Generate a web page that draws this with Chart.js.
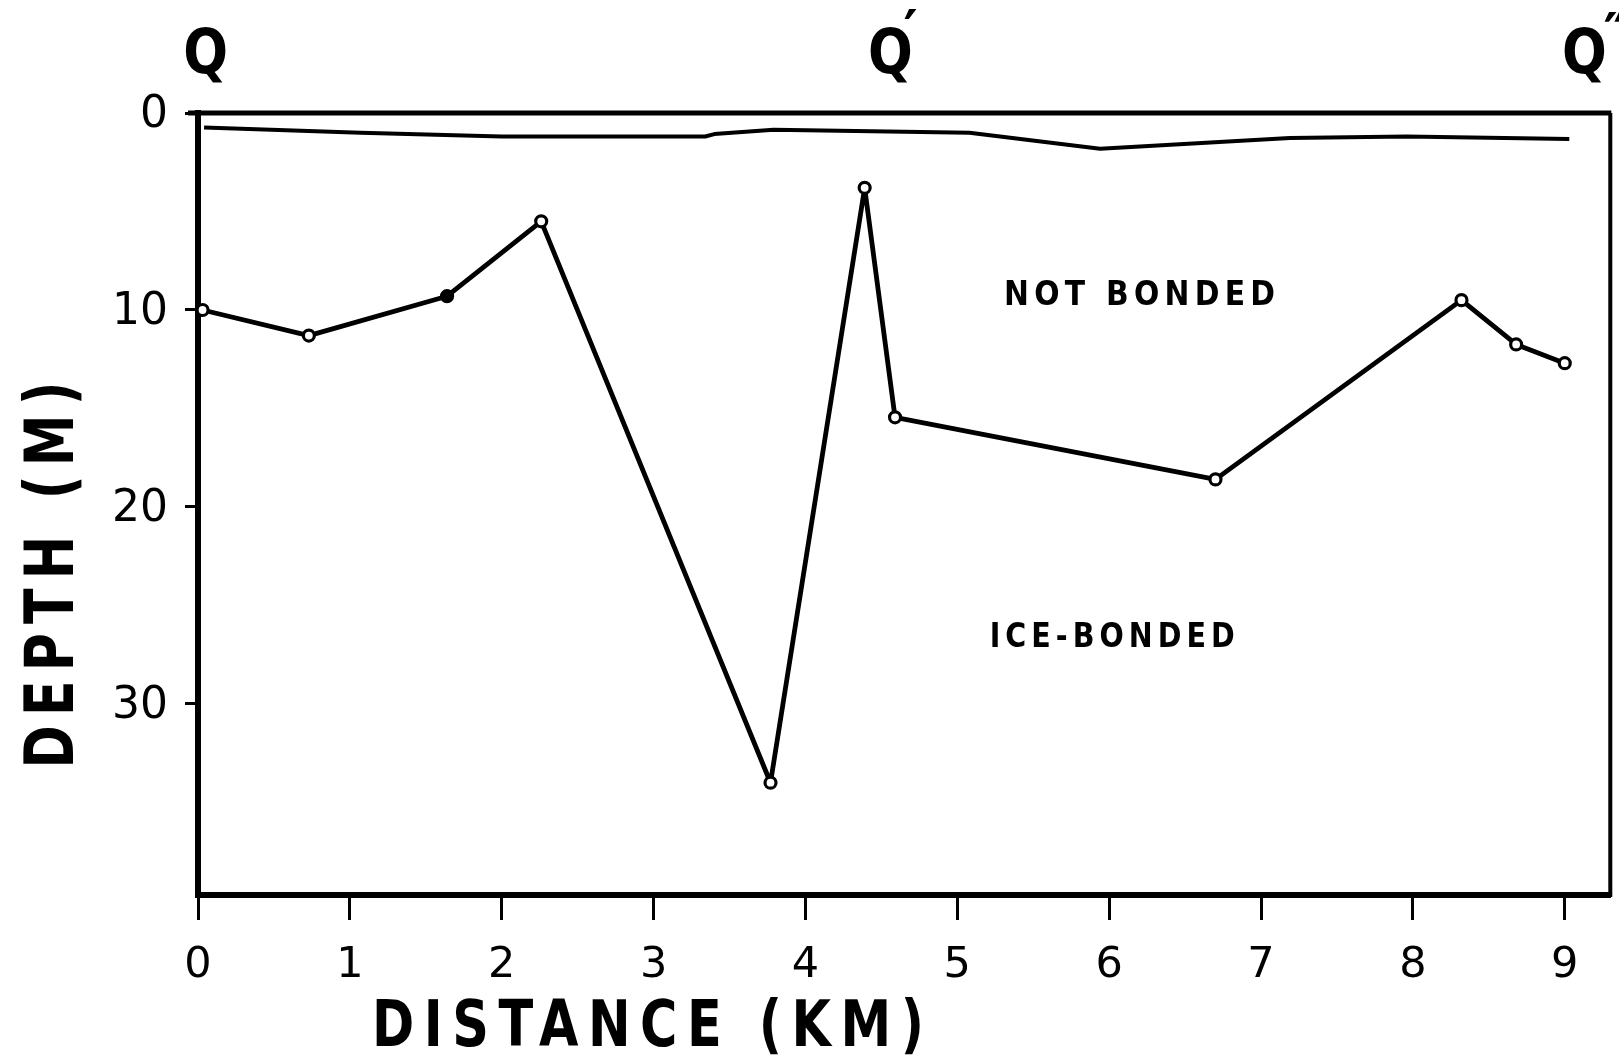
<!DOCTYPE html>
<html>
<head>
<meta charset="utf-8">
<title>Depth profile Q – Q′ – Q″</title>
<script src="https://cdn.jsdelivr.net/npm/chart.js@4.4.1/dist/chart.umd.min.js"></script>
<style>
  html, body { margin: 0; padding: 0; background: #fff; }
  #wrap { width: 1619px; height: 1057px; }
</style>
</head>
<body>
<div id="wrap"><canvas id="profile" width="1619" height="1057"></canvas></div>
<script>
// Depth to the top of ice-bonded ground along the profile (stations with circles)
const stationKm     = [0.03, 0.73, 1.64, 2.26, 3.77, 4.39, 4.59, 6.70, 8.32, 8.68, 9.00];
const bondedDepthM  = [10.0, 11.3, 9.3, 5.5, 34.0, 3.8, 15.45, 18.6, 9.5, 11.75, 12.7];

// Thin line just below the surface
const surfaceKm     = [0.04, 1.07, 2.00, 3.34, 3.40, 3.79, 5.08, 5.94, 7.19, 7.96, 9.03];
const surfaceDepthM = [0.73, 1.00, 1.19, 1.19, 1.07, 0.85, 1.00, 1.81, 1.27, 1.19, 1.32];

// Axis ticks
const distanceTicks = [0, 1, 2, 3, 4, 5, 6, 7, 8, 9];
const depthTicks    = [0, 10, 20, 30];

const toXY = (xs, ys) => xs.map((x, i) => ({ x: x, y: ys[i] }));

const TEXT_FONT = '"DejaVu Sans", "Liberation Sans", sans-serif';
const CAP = 0.729; // cap height of DejaVu Sans as a fraction of the em

// Draws a letter-spaced, horizontally condensed label centred on (cx, cy)
function spacedText(ctx, str, cx, cy, o) {
  ctx.save();
  ctx.font = `${o.weight || 'bold'} ${o.size}px ${TEXT_FONT}`;
  ctx.letterSpacing = (o.spacing || 0) + 'px';
  const w = ctx.measureText(str).width - (o.spacing || 0);
  ctx.translate(cx, cy);
  if (o.angle) ctx.rotate(o.angle);
  const sx = o.width ? o.width / w : (o.scaleX || 1);
  ctx.scale(sx, 1);
  ctx.fillStyle = '#000';
  ctx.textAlign = 'left';
  ctx.textBaseline = 'alphabetic';
  ctx.fillText(str, -w / 2, o.size * CAP / 2);
  ctx.restore();
}

// Draws a glyph so that its inked box starts at (left, top)
function glyphAt(ctx, str, left, top, size) {
  ctx.save();
  ctx.font = `bold ${size}px ${TEXT_FONT}`;
  ctx.textAlign = 'left';
  ctx.textBaseline = 'alphabetic';
  ctx.fillStyle = '#000';
  const m = ctx.measureText(str);
  ctx.fillText(str, left + m.actualBoundingBoxLeft, top + m.actualBoundingBoxAscent);
  ctx.restore();
}

const frameAndLabels = {
  id: 'frameAndLabels',
  afterDraw(chart) {
    const { ctx, chartArea: a, scales } = chart;
    const xs = scales.x, ys = scales.y;
    ctx.save();
    ctx.strokeStyle = '#000';
    // top and right edges of the frame
    ctx.lineWidth = 5;
    ctx.beginPath();
    ctx.moveTo(a.left - 10, a.top);
    ctx.lineTo(a.right + 1, a.top);
    ctx.stroke();
    ctx.lineWidth = 4;
    ctx.beginPath();
    ctx.moveTo(a.right, a.top);
    ctx.lineTo(a.right, a.bottom + 2);
    ctx.stroke();
    ctx.restore();

    // profile end / bend markers above the frame
    const qY = 50;
    const q1 = xs.getPixelForValue(0.05);
    const q2 = xs.getPixelForValue(4.56);
    const q3 = xs.getPixelForValue(9.13);
    spacedText(ctx, 'Q', q1, qY, { size: 62, scaleX: 0.85 });
    spacedText(ctx, 'Q', q2, qY, { size: 62, scaleX: 0.85 });
    glyphAt(ctx, '′', q2 + 14, 9, 54);
    spacedText(ctx, 'Q', q3, qY, { size: 62, scaleX: 0.85 });
    glyphAt(ctx, '″', q3 + 20, 12, 54);

    // zone labels
    spacedText(ctx, 'NOT BONDED', xs.getPixelForValue(6.20), ys.getPixelForValue(9.1),
      { size: 34, spacing: 6, width: 271 });
    spacedText(ctx, 'ICE-BONDED', xs.getPixelForValue(6.02), ys.getPixelForValue(26.5),
      { size: 34, spacing: 6, width: 245 });

    // axis titles
    spacedText(ctx, 'DISTANCE (KM)', 648, 1023, { size: 64, spacing: 12, width: 552 });
    spacedText(ctx, 'DEPTH (M)', 48, 575, { size: 68, spacing: 12, width: 387, angle: -Math.PI / 2 });
  }
};

Chart.defaults.color = '#000';
Chart.defaults.font.family = TEXT_FONT;

new Chart(document.getElementById('profile'), {
  type: 'scatter',
  data: {
    datasets: [
      {
        label: 'Surface',
        data: toXY(surfaceKm, surfaceDepthM),
        showLine: true,
        borderColor: '#000',
        borderWidth: 4,
        borderJoinStyle: 'round',
        pointRadius: 0,
        tension: 0
      },
      {
        label: 'Top of ice-bonded ground',
        data: toXY(stationKm, bondedDepthM),
        showLine: true,
        borderColor: '#000',
        borderWidth: 4.8,
        borderJoinStyle: 'round',
        pointRadius: 5.5,
        pointBorderWidth: 3.2,
        pointBorderColor: '#000',
        pointBackgroundColor: stationKm.map((_, i) => (i === 2 ? '#000' : '#fff')),
        tension: 0
      }
    ]
  },
  options: {
    responsive: false,
    animation: false,
    devicePixelRatio: 1,
    layout: { padding: { top: 113, right: 5, left: 0, bottom: 0 } },
    plugins: { legend: { display: false }, tooltip: { enabled: false } },
    scales: {
      x: {
        type: 'linear',
        position: 'bottom',
        min: 0,
        max: 9.30,
        afterBuildTicks: s => { s.ticks = distanceTicks.map(v => ({ value: v })); },
        afterFit: s => { s.height = 162; },
        ticks: { font: { size: 43 }, padding: 20, maxRotation: 0, autoSkip: false, color: '#000' },
        grid: { drawOnChartArea: false, drawTicks: true, tickLength: 25, tickWidth: 3, tickColor: '#000' },
        border: { display: true, color: '#000', width: 6 }
      },
      y: {
        type: 'linear',
        position: 'left',
        reverse: true,
        min: 0,
        max: 39.7,
        afterBuildTicks: s => { s.ticks = depthTicks.map(v => ({ value: v })); },
        afterFit: s => { s.width = 198; },
        ticks: { font: { size: 44 }, padding: 17, labelOffset: 3, color: '#000' },
        grid: { drawOnChartArea: false, drawTicks: true, tickLength: 13, tickWidth: 3, tickColor: '#000' },
        border: { display: true, color: '#000', width: 6 }
      }
    }
  },
  plugins: [frameAndLabels]
});
</script>
</body>
</html>
